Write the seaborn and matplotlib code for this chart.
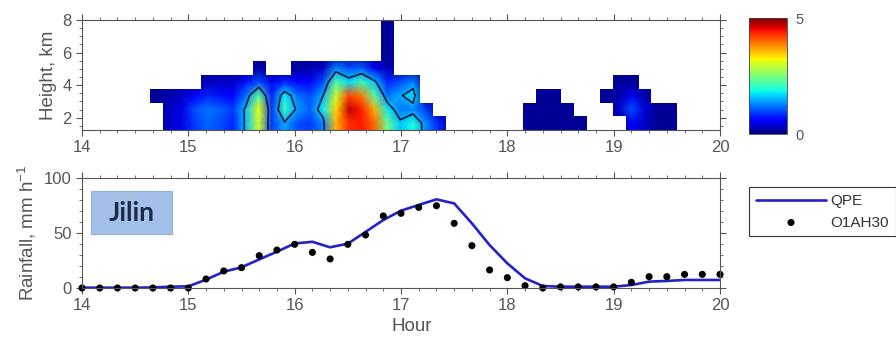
import numpy as np
import pandas as pd
import seaborn as sns
import matplotlib
matplotlib.use("Agg")
import matplotlib.pyplot as plt
from matplotlib.patches import Rectangle
from matplotlib.ticker import MultipleLocator

N = np.nan

# ---------------- radar cross-section data ----------------
radar_t0 = 14.635          # start of first time bin, hours
radar_dt = 0.1209          # bin width, hours
height_edges = [1.25, 2.09, 2.94, 3.78, 4.63, 5.47, 6.31, 7.16, 8.0]

# rows from lowest (1.25-2.09 km) to highest (7.16-8 km), 41 time bins each
refl_row0 = [N, 0.3, 0.45, 0.9, 1.1, 1.0, 0.8, 1.6, 3.0, 0.9, 1.45, 1.0, 0.9, 1.3, 3.6, 4.3, 4.4, 4.0, 2.4, 1.6, 1.9, 1.3, 0.8,
             N, N, N, N, N, N, 0.1, 0.1, 0.1, 0.1, 0.1, N, N, N, 0.6, 0.3, 0.1, 0.1]
refl_row1 = [N, 0.3, 0.45, 1.0, 1.2, 1.1, 0.9, 1.6, 3.2, 0.9, 2.1, 1.4, 1.1, 1.8, 3.4, 4.7, 4.4, 3.6, 1.8, 1.2, 1.3, 0.9, N,
             N, N, N, N, N, N, 0.1, 0.1, 0.1, 0.1, N, N, N, 0.3, 1.0, 0.4, 0.1, 0.1]
refl_row2 = [0.1, 0.2, 0.3, 0.6, 0.8, 0.7, 0.6, 1.2, 2.3, 0.8, 1.8, 1.2, 1.0, 1.5, 3.0, 4.2, 3.9, 2.3, 1.2, 1.45, 1.75, N, N,
             N, N, N, N, N, N, N, 0.1, 0.1, N, N, N, 0.1, 0.2, 0.5, 0.2, N, N]
refl_row3 = [N, N, N, N, 0.25, 0.3, 0.3, 0.7, 1.0, 0.5, 0.8, 0.6, 0.6, 1.0, 2.2, 1.7, 2.1, 1.6, 0.8, 1.0, 1.25, N, N,
             N, N, N, N, N, N, N, N, N, N, N, N, N, 0.1, 0.1, N, N, N]
refl_row4 = [N, N, N, N, N, N, N, N, 0.15, N, N, 0.15, 0.2, 0.3, 1.25, 1.0, 1.1, 0.5, 0.25, N, N, N, N,
             N, N, N, N, N, N, N, N, N, N, N, N, N, N, N, N, N, N]
refl_row5 = [N] * 18 + [0.1] + [N] * 22
refl_row6 = [N] * 18 + [0.1] + [N] * 22
refl_row7 = [N] * 18 + [0.1] + [N] * 22

# ---------------- rainfall time series ----------------
rain_hours = np.linspace(14, 20, 37)   # every 10 minutes
qpe = [0.3, 0.3, 0.3, 0.3, 0.5, 1.2, 1.5, 7.6, 14.8, 18.8, 26.0, 33.0, 40.5, 42.0, 37.0, 40.3,
       51.0, 61.8, 70.3, 75.5, 80.6, 76.9, 58.8, 39.0, 22.4, 8.8, 1.8, 1.2, 1.2, 1.2, 1.2,
       2.7, 5.8, 6.4, 7.3, 7.3, 7.3]
obs = [0, 0, 0, 0, 0, 0, 0, 8.2, 15.5, 18.5, 29.4, 34.5, 39.7, 32.4, 26.4, 39.7,
       48.2, 65.5, 67.9, 73.3, 74.8, 58.8, 38.5, 16.4, 9.4, 2.1, 0, 1, 1, 1, 1,
       5.2, 10.3, 10.3, 12.4, 12.4, 12.4]

# ---------------- style ----------------
sns.set_theme(style="ticks")
plt.rcParams['font.family'] = ['Liberation Sans', 'DejaVu Sans']
plt.rcParams['mathtext.fontset'] = 'custom'
plt.rcParams['mathtext.rm'] = 'Liberation Sans'
plt.rcParams['mathtext.it'] = 'Liberation Sans:italic'
TXT = '#555555'

W, H = 896, 346
fig = plt.figure(figsize=(W / 100, H / 100), dpi=100)
ax1 = fig.add_axes([82 / W, 1 - 130 / H, 638 / W, 110 / H])
ax2 = fig.add_axes([82 / W, 1 - 288 / H, 638 / W, 110 / H])
cax = fig.add_axes([749 / W, 1 - 134 / H, 38 / W, 116 / H])

# ---------------- top panel ----------------
Z = np.array([refl_row0, refl_row1, refl_row2, refl_row3,
              refl_row4, refl_row5, refl_row6, refl_row7], dtype=float)
nt = Z.shape[1]
t_edges = radar_t0 + radar_dt * np.arange(nt + 1)
t_cent = 0.5 * (t_edges[:-1] + t_edges[1:])
h_edges = np.array(height_edges)
h_cent = 0.5 * (h_edges[:-1] + h_edges[1:])
Zf = np.where(np.isnan(Z), 0.1, Z)
Zp = np.pad(Zf, 1, mode='edge')
tp = np.concatenate([[t_edges[0]], t_cent, [t_edges[-1]]])
hp = np.concatenate([[h_edges[0]], h_cent, [h_edges[-1]]])

mesh = ax1.pcolormesh(tp, hp, Zp, shading='gouraud', cmap='jet', vmin=0, vmax=5,
                      antialiased=False, zorder=1)
ax1.contour(tp, hp, Zp, levels=[1.5], colors='#0f1c45', linewidths=1.2, zorder=2)

# white cover over the empty (no-echo) bins, padded by one empty bin all round
empty = np.pad(np.isnan(Z), 1, mode='constant', constant_values=True)
rgba = np.zeros(empty.shape + (4,))
rgba[..., :3] = 1.0
rgba[..., 3] = empty.astype(float)
dh = h_edges[1] - h_edges[0]
ax1.imshow(rgba, origin='lower', aspect='auto', interpolation='nearest',
           extent=(t_edges[0] - radar_dt, t_edges[-1] + radar_dt,
                   h_edges[0] - dh, h_edges[-1] + dh), zorder=2.2)
ax1.set_ylim(1.25, 8)
ax1.yaxis.set_major_locator(MultipleLocator(2))
ax1.yaxis.set_minor_locator(MultipleLocator(0.5))
ax1.set_ylabel('Height, km', fontsize=13.5, color=TXT, labelpad=4)

cb = fig.colorbar(mesh, cax=cax, ticks=[0, 5])
cb.ax.tick_params(length=0, labelsize=10.5, labelcolor=TXT, pad=6)
cb.outline.set_linewidth(0.6)
cb.outline.set_edgecolor('#444444')

# ---------------- bottom panel ----------------
df = pd.DataFrame({'hour': rain_hours, 'QPE': qpe, 'O1AH30': obs})
sns.lineplot(data=df, x='hour', y='QPE', ax=ax2, color='#2222c8', linewidth=1.9,
             label='QPE', zorder=2)
sns.scatterplot(data=df, x='hour', y='O1AH30', ax=ax2, color='black', s=26,
                edgecolor='none', label='O1AH30', zorder=3, clip_on=False)
if ax2.get_legend() is not None:
    ax2.get_legend().remove()
ax2.set_ylim(0, 100)
ax2.yaxis.set_major_locator(MultipleLocator(50))
ax2.yaxis.set_minor_locator(MultipleLocator(10))
ax2.set_ylabel('Rainfall, mm h$^{-1}$', fontsize=13.5, color=TXT, labelpad=4)
ax2.set_xlabel('Hour', fontsize=13.5, color=TXT, x=0.517, labelpad=3)

ax2.add_patch(Rectangle((0.014, 0.491), 0.127, 0.391, transform=ax2.transAxes,
                        facecolor='#a3c1e8', edgecolor='#8fb0dc', lw=0.8, zorder=4))
ax2.text(0.0775, 0.686, 'Jilin', transform=ax2.transAxes, ha='center', va='center',
         fontsize=19, color='#1c2a4a', family=['Lato', 'DejaVu Sans'], weight='bold', zorder=5)

handles, labels = ax2.get_legend_handles_labels()
leg = fig.legend(handles, labels, loc='upper left', bbox_to_anchor=(749 / W, 1 - 187 / H),
                 frameon=True, fancybox=False, edgecolor='#333333', fontsize=11,
                 handlelength=4.6, borderpad=0.45, labelspacing=0.5, handletextpad=0.3,
                 borderaxespad=0, framealpha=1)
leg.get_frame().set_linewidth(0.8)
for t in leg.get_texts():
    t.set_color('#333333')

# ---------------- shared axis styling ----------------
for ax in (ax1, ax2):
    ax.set_xlim(14, 20)
    ax.xaxis.set_major_locator(MultipleLocator(1))
    ax.xaxis.set_minor_locator(MultipleLocator(1 / 6))
    ax.tick_params(which='both', direction='out', top=True, right=True,
                   labeltop=False, labelright=False, color='#555555',
                   labelcolor=TXT, labelsize=12, pad=3)
    ax.tick_params(which='major', length=4.5, width=0.8)
    ax.tick_params(which='minor', length=2.5, width=0.6)
    ax.set_facecolor('white')
    for sp in ax.spines.values():
        sp.set_visible(True)
        sp.set_color('#555555')
        sp.set_linewidth(0.8)
        sp.set_zorder(5)
ax1.set_xlabel('')

fig.savefig('out.png', dpi=100, facecolor='white')
